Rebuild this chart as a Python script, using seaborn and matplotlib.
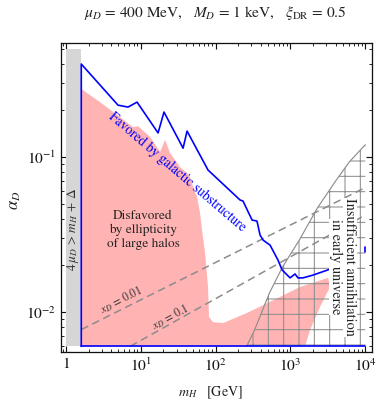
import numpy as np
import pandas as pd
import matplotlib
matplotlib.use('Agg')
import matplotlib.pyplot as plt
import seaborn as sns
from matplotlib.ticker import LogLocator, NullFormatter, FixedLocator, FixedFormatter

# ---------------- data ----------------
# excluded band: 4 mu_D > m_H + Delta
band_m = [1.0, 1.6]
band_lo = [0.006, 0.006]
band_hi = [0.5, 0.5]

# "Disfavored by ellipticity of large halos" region (pink)
pink_m = [1.6, 1.6, 2.85, 4.81, 7.87, 9.18, 13.3, 18.1, 21.1, 24.6, 33.4, 41.5,
          45.5, 49.9, 56.4, 61.9, 67.9, 72.2, 79.1, 81.6, 92.3, 126, 263, 585,
          1344, 3184, 3384, 2490, 1828, 1567]
pink_alpha = [0.006, 0.275, 0.226, 0.187, 0.156, 0.158, 0.135, 0.108, 0.129,
              0.106, 0.0862, 0.0788, 0.0743, 0.064, 0.0552, 0.0435, 0.0300,
              0.024, 0.0145, 0.0093, 0.0086, 0.00849, 0.00986, 0.0119, 0.0145,
              0.0166, 0.0145, 0.0108, 0.00766, 0.006]

# "Favored by galactic substructure" boundary (blue)
blue_m = [1.6, 1.6, 4.96, 6.74, 8.9, 17.0, 20.4, 36.7, 41.5, 79.1, 212, 232,
          307, 357, 392, 430, 534, 682, 772, 988, 1152, 1260, 1472, 1997, 3388]
blue_alpha = [0.006, 0.398, 0.216, 0.210, 0.226, 0.143, 0.195, 0.114, 0.147,
              0.0824, 0.0528, 0.052, 0.0392, 0.0386, 0.0314, 0.0291, 0.027,
              0.0216, 0.0187, 0.0166, 0.0176, 0.0166, 0.0166, 0.0173, 0.0189]
blue_bottom_m = [1.6, 10000]
blue_bottom_alpha = [0.006, 0.006]
blue_edge_m = [10000, 10000]
blue_edge_alpha = [0.0243, 0.0262]

# "Insufficient annihilation in early universe" region (hatched)
hatch_m = [259, 331, 525, 782, 1318, 2291, 4105, 6120, 10000, 10000]
hatch_alpha = [0.006, 0.00765, 0.0133, 0.0195, 0.0292, 0.0469, 0.0711, 0.093,
               0.12, 0.006]

# constant x_D lines
xd001_m = [1.6, 10000]
xd001_alpha = [0.0077, 0.0635]
xd01_m = [7.2, 10000]
xd01_alpha = [0.006, 0.0422]

# ticks
xticks = [1, 10, 100, 1000, 10000]
xticklabels = ['1', r'$10^{1}$', r'$10^{2}$', r'$10^{3}$', r'$10^{4}$']
yticks = [0.01, 0.1]
yticklabels = [r'$10^{-2}$', r'$10^{-1}$']

# ---------------- style ----------------
sns.set_style('ticks')
plt.rcParams['font.family'] = ['STIXGeneral', 'DejaVu Serif']
plt.rcParams['mathtext.fontset'] = 'stix'
plt.rcParams['hatch.linewidth'] = 0.8

DPI = 92
W, H = 379, 404
fig = plt.figure(figsize=(W / DPI, H / DPI), dpi=DPI)
fig.patch.set_facecolor('white')
ax = fig.add_axes([61 / W, 52 / H, 311 / W, 309 / H])
ax.set_xscale('log')
ax.set_yscale('log')
ax.set_xlim(0.857, 12300)
ax.set_ylim(0.00552, 0.544)

gray_fill = '#d6d6d6'
pink = '#ffb3b3'
hatch_gray = '#8c8c8c'
dash_gray = '#8c8c8c'
txt = '#222222'

ax.fill_between(band_m, band_lo, band_hi, color=gray_fill, lw=0, zorder=1)
ax.fill(pink_m, pink_alpha, facecolor=pink, edgecolor='none', lw=0, zorder=2)
ax.fill(hatch_m, hatch_alpha, facecolor='none', edgecolor=hatch_gray,
        hatch='+', lw=0, zorder=3)
sns.lineplot(x=hatch_m[:-1], y=hatch_alpha[:-1], ax=ax, sort=False,
             estimator=None, color=hatch_gray, lw=0.9, zorder=4)

for xm, ya in [(xd001_m, xd001_alpha), (xd01_m, xd01_alpha)]:
    sns.lineplot(x=xm, y=ya, ax=ax, sort=False, estimator=None, color=dash_gray,
                 lw=1.2, linestyle=(0, (5, 3)), zorder=5)

for xm, ya in [(blue_m, blue_alpha), (blue_bottom_m, blue_bottom_alpha),
               (blue_edge_m, blue_edge_alpha)]:
    sns.lineplot(x=xm, y=ya, ax=ax, sort=False, estimator=None, color='#0000ff',
                 lw=1.3, zorder=6)

# ---------------- texts ----------------
ax.text(10.7, 0.0338, 'Disfavored\nby ellipticity\nof large halos', ha='center',
        va='center', fontsize=10.5, linespacing=1.2, color=txt, zorder=7)
ax.text(30.5, 0.080, 'Favored by galactic substructure', ha='center',
        va='center', rotation=-40.5, fontsize=10.6, color='#0000ff', zorder=7,
        rotation_mode='anchor')
ax.text(1.24, 0.0343, r'$4\,\mu_D\, >\, m_H\, +\, \Delta$', ha='center',
        va='center', rotation=90, fontsize=10.5, color='#333333', zorder=7)
ax.text(5.44, 0.0119, r'$x_D$ = 0.01', ha='center', va='center', rotation=27,
        fontsize=9, color='#333333', zorder=7, rotation_mode='anchor')
ax.text(24.6, 0.0093, r'$x_D$ = 0.1', ha='center', va='center', rotation=28,
        fontsize=9, color='#333333', zorder=7, rotation_mode='anchor')
ax.text(6270, 0.0195, 'Insufficient annihilation', ha='center', va='center',
        rotation=-90, fontsize=11.2, color=txt, zorder=7,
        bbox=dict(facecolor='white', edgecolor='none', pad=0.5))
ax.text(4070, 0.0195, 'in early universe', ha='center', va='center',
        rotation=-90, fontsize=11.2, color=txt, zorder=7,
        bbox=dict(facecolor='white', edgecolor='none', pad=0.5))

fig.text(215 / W, 1 - 13 / H,
         r'$\mu_D$ = 400 MeV,   $M_D$ = 1 keV,   $\xi_{\rm DR}$ = 0.5',
         ha='center', va='center', fontsize=12, color=txt)

ax.set_xlabel(r'$m_H$   [GeV]', fontsize=11, color=txt)
ax.xaxis.set_label_coords(0.479, -0.133)
ax.xaxis.label.set_va('center')
ax.set_ylabel(r'$\alpha_D$', fontsize=13, color=txt)
ax.yaxis.set_label_coords(-0.148, 0.49)
ax.yaxis.label.set_va('center')

# ---------------- ticks ----------------
ax.xaxis.set_major_locator(FixedLocator(xticks))
ax.xaxis.set_major_formatter(FixedFormatter(xticklabels))
ax.yaxis.set_major_locator(FixedLocator(yticks))
ax.yaxis.set_major_formatter(FixedFormatter(yticklabels))
ax.xaxis.set_minor_locator(LogLocator(base=10, subs=np.arange(2, 10)))
ax.yaxis.set_minor_locator(LogLocator(base=10, subs=np.arange(2, 10)))
ax.xaxis.set_minor_formatter(NullFormatter())
ax.yaxis.set_minor_formatter(NullFormatter())
ax.tick_params(which='major', direction='in', length=5, width=0.9, top=True,
               right=True, labelsize=12, pad=4, colors='#111111')
ax.tick_params(which='minor', direction='in', length=2.6, width=0.7, top=True,
               right=True, colors='#111111')
for s in ax.spines.values():
    s.set_linewidth(1.0)
    s.set_color('#111111')
ax.grid(False)
ax.set_facecolor('white')

fig.savefig('out.png', dpi=DPI)
